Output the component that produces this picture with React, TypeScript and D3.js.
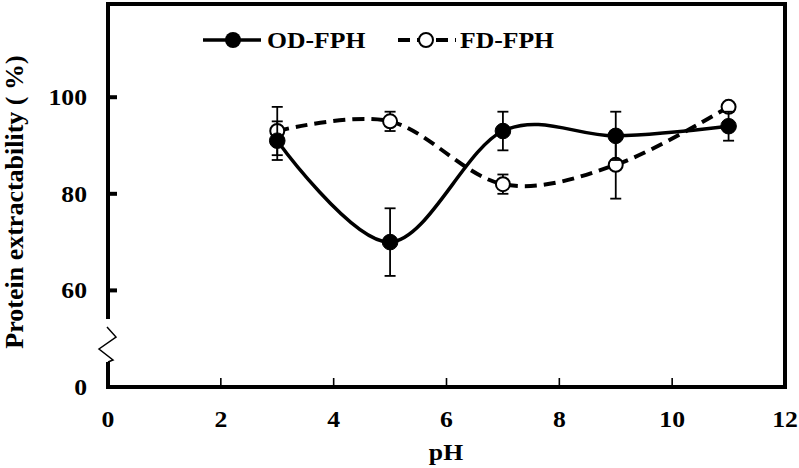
import React from 'react';
import * as d3 from "d3";

const ph = [3, 5, 7, 9, 11];
const odValues = [91, 70, 93, 92, 94];
const odErrors = [4, 7, 4, 5, 3];
const fdValues = [93, 95, 82, 86, 98];
const fdErrors = [5, 2, 2, 7, 1];
const xTicks = [0, 2, 4, 6, 8, 10, 12];
const yTicks = [40, 60, 80, 100];
const yTickLabels = ["0", "60", "80", "100"];

const width = 799, height = 468;
const left = 108, right = 785, top = 4, bottom = 387;
const font = "Liberation Serif";
const stretch = "scale(1.07,1)"; // source picture is a little wider than tall

const Label = ({ x, y, anchor, children }) => (
    <text transform={`translate(${x},${y}) ${stretch}`} textAnchor={anchor} fontSize={24}>{children}</text>
)

const Series = ({ values, errors, x, y, filled, dashed }) => {
    const pts = ph.map((p, i) => [x(p), y(values[i])]);
    const line = d3.line().curve(d3.curveCardinal.tension(0));
    return (
        <g>
            <path d={line(pts)} fill="none" stroke="#000" strokeWidth={dashed ? 4 : 3.5}
                strokeDasharray={dashed ? "12,7" : null} />
            {ph.map((p, i) => {
                const cx = x(p), hi = y(values[i] + errors[i]), lo = y(values[i] - errors[i]);
                return (
                    <g key={"e" + i} stroke="#000" strokeWidth={1.8}>
                        <line x1={cx} x2={cx} y1={hi} y2={lo} />
                        <line x1={cx - 5.5} x2={cx + 5.5} y1={hi} y2={hi} />
                        <line x1={cx - 5.5} x2={cx + 5.5} y1={lo} y2={lo} />
                    </g>
                )
            })}
            {pts.map((d, i) => (
                <circle key={i} cx={d[0]} cy={d[1]} r={filled ? 7.8 : 7}
                    fill={filled ? "#000" : "#fff"} stroke="#000" strokeWidth={filled ? 1 : 2} />
            ))}
        </g>
    )
}

const App = () => {
    const x = d3.scaleLinear().domain([0, 12]).range([left, right]);
    const y = d3.scaleLinear().domain([40, 119.3]).range([bottom, top]);

    return (
        <svg width={width} height={height} style={{ position: "absolute", left: 0, top: 0, fontFamily: font, fontWeight: 700 }}>
            <rect width={width} height={height} fill="#fff" />

            {/* frame, left axis broken between 0 and 60 */}
            <line x1={left} x2={right} y1={top} y2={top} stroke="#000" strokeWidth={4} />
            <line x1={right} x2={right} y1={top - 2} y2={bottom + 2} stroke="#000" strokeWidth={4} />
            <line x1={left - 2} x2={right + 2} y1={bottom} y2={bottom} stroke="#000" strokeWidth={4} />
            <line x1={left} x2={left} y1={top - 2} y2={319} stroke="#000" strokeWidth={4} />
            <line x1={left} x2={left} y1={362} y2={bottom} stroke="#000" strokeWidth={4} />
            <polyline points={`${left - 1},327 ${left + 8},337 ${left - 9},349 ${left + 5},360 ${left},362`}
                fill="none" stroke="#000" strokeWidth={1.5} />

            {xTicks.map((t) => (
                <g key={"x" + t}>
                    {t > 0 && t < 12 && (
                        <line x1={x(t)} x2={x(t)} y1={bottom} y2={bottom - 9} stroke="#000" strokeWidth={1.6} />
                    )}
                    <Label x={x(t)} y={427} anchor="middle">{t}</Label>
                </g>
            ))}
            {yTicks.map((t, i) => (
                <g key={"y" + t}>
                    {i > 0 && (
                        <line x1={left} x2={left + 9} y1={y(t)} y2={y(t)} stroke="#000" strokeWidth={4} />
                    )}
                    <Label x={87} y={y(t) + 8} anchor="end">{yTickLabels[i]}</Label>
                </g>
            ))}

            <Label x={446} y={460} anchor="middle">pH</Label>
            <text transform="translate(23,202) rotate(-90)" textAnchor="middle" fontSize={26}>
                Protein extractability ( %)
            </text>

            <Series values={fdValues} errors={fdErrors} x={x} y={y} filled={false} dashed={true} />
            <Series values={odValues} errors={odErrors} x={x} y={y} filled={true} dashed={false} />

            {/* legend */}
            <line x1={203} x2={261} y1={40} y2={40} stroke="#000" strokeWidth={3.5} />
            <circle cx={233} cy={40} r={8} fill="#000" />
            <Label x={267} y={48} anchor="start">OD-FPH</Label>
            <line x1={398} x2={456} y1={40} y2={40} stroke="#000" strokeWidth={4} strokeDasharray="12,7" />
            <circle cx={426} cy={40} r={7} fill="#fff" stroke="#000" strokeWidth={2} />
            <Label x={460} y={48} anchor="start">FD-FPH</Label>
        </svg>
    )
}

export default App;
